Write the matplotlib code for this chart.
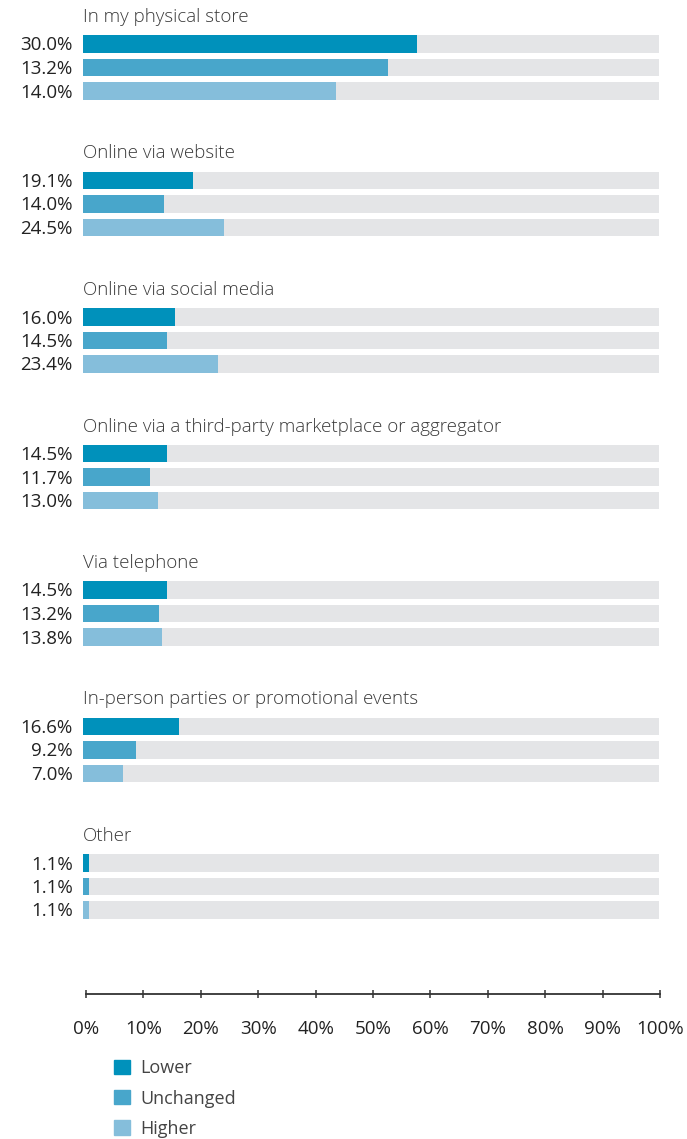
import matplotlib
matplotlib.use("Agg")
import matplotlib.pyplot as plt
from matplotlib.patches import Patch

# channels (group titles)
channels = ["In my physical store", "Online via website", "Online via social media",
            "Online via a third-party marketplace or aggregator", "Via telephone",
            "In-person parties or promotional events", "Other"]
series = ["Lower", "Unchanged", "Higher"]
colors = ["#0091BB", "#48A6CB", "#85BEDB"]

# bar lengths as drawn (%)
lower = [58.0, 19.1, 16.0, 14.5, 14.5, 16.6, 1.1]
unchanged = [53.0, 14.0, 14.5, 11.7, 13.2, 9.2, 1.1]
higher = [44.0, 24.5, 23.4, 13.0, 13.8, 7.0, 1.1]

# labels as printed
lower_lbl = ["30.0%", "19.1%", "16.0%", "14.5%", "14.5%", "16.6%", "1.1%"]
unchanged_lbl = ["13.2%", "14.0%", "14.5%", "11.7%", "13.2%", "9.2%", "1.1%"]
higher_lbl = ["14.0%", "24.5%", "23.4%", "13.0%", "13.8%", "7.0%", "1.1%"]

ticks = [0, 10, 20, 30, 40, 50, 60, 70, 80, 90, 100]

W, H = 687, 1139
fig = plt.figure(figsize=(W / 100, H / 100), dpi=100)
plt.rcParams['font.family'] = ['Open Sans', 'DejaVu Sans']

# bars axes: y in pixel units from top
ax = fig.add_axes([83 / W, 0, 576 / W, 1])
ax.set_xlim(0, 100)
ax.set_ylim(H, 0)
ax.axis("off")

first = 44
pitch = 23.5
gap = 136.5
bh = 17.5
vals = [lower, unchanged, higher]
lbls = [lower_lbl, unchanged_lbl, higher_lbl]
for g, name in enumerate(channels):
    y0 = first + g * gap
    ax.text(0, y0 - 27, name, fontsize=13.5, color="#3a3a3a", fontweight="light",
            va="center", ha="left")
    for s in range(3):
        y = y0 + s * pitch
        ax.barh(y, 100, height=bh, color="#E4E5E7")
        ax.barh(y, vals[s][g], height=bh, color=colors[s])
        ax.text(-1.8, y + 1.5, lbls[s][g], fontsize=13.5, color="#222222",
                va="center", ha="right")

# scale axes
sx = fig.add_axes([86 / W, (H - 994) / H, 574 / W, 0.001])
sx.set_xlim(0, 100)
sx.set_yticks([])
for sp in ["top", "left", "right"]:
    sx.spines[sp].set_visible(False)
sx.spines["bottom"].set_color("#333333")
sx.spines["bottom"].set_linewidth(1.3)
sx.set_xticks(ticks)
sx.set_xticklabels([f"{t}%" for t in ticks], fontsize=13.5, color="#222222")
sx.tick_params(axis="x", direction="inout", length=6, width=1.1, color="#333333", pad=16)

handles = [Patch(color=c, label=l) for c, l in zip(colors, series)]
fig.legend(handles=handles, loc="upper left", bbox_to_anchor=(98 / W, (H - 1043) / H),
           frameon=False, fontsize=13, handlelength=0.85, handleheight=0.85,
           labelspacing=0.68, handletextpad=0.6, labelcolor="#444444")

fig.savefig("out.png", dpi=100)
